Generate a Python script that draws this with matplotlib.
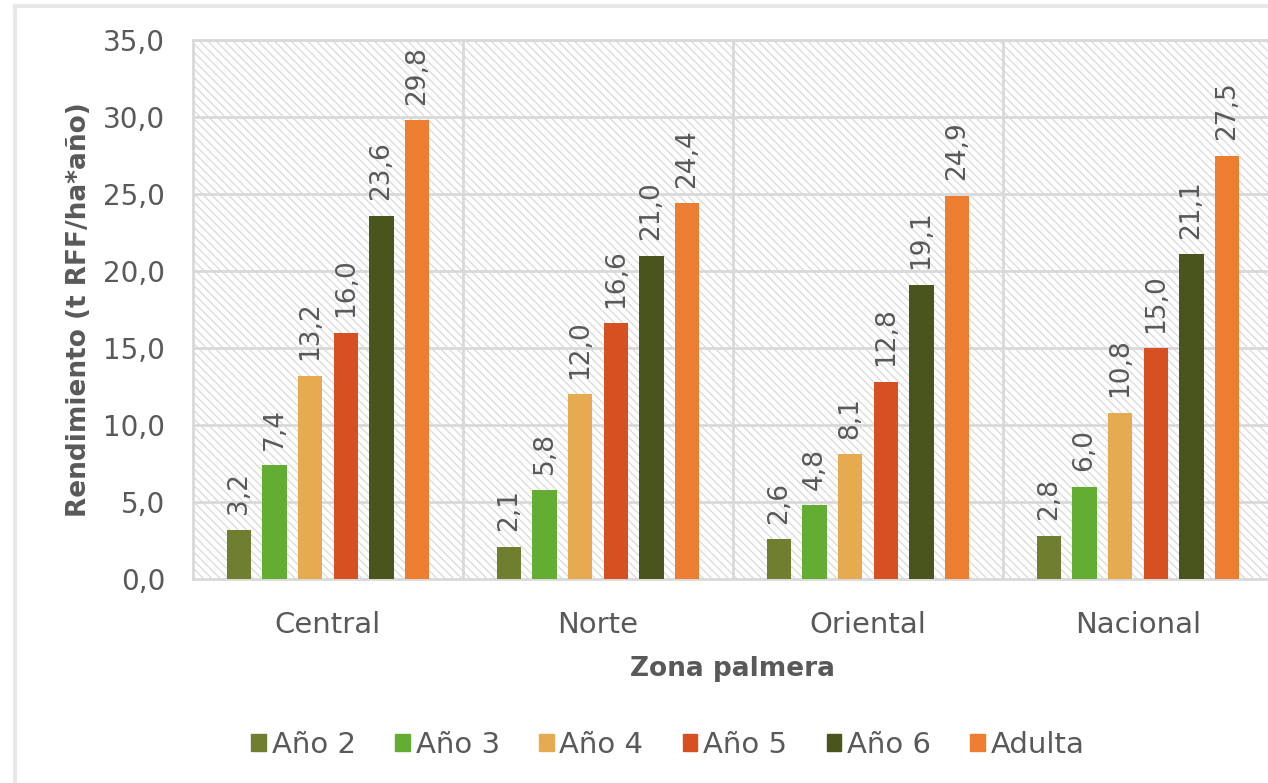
import matplotlib
matplotlib.use("Agg")
import matplotlib.pyplot as plt
import numpy as np
from matplotlib.patches import Rectangle
from matplotlib.lines import Line2D

categories = ["Central", "Norte", "Oriental", "Nacional"]
series_names = ["Año 2", "Año 3", "Año 4", "Año 5", "Año 6", "Adulta"]
ano2 = [3.2, 2.1, 2.6, 2.8]
ano3 = [7.4, 5.8, 4.8, 6.0]
ano4 = [13.2, 12.0, 8.1, 10.8]
ano5 = [16.0, 16.6, 12.8, 15.0]
ano6 = [23.6, 21.0, 19.1, 21.1]
adulta = [29.8, 24.4, 24.9, 27.5]
series = [ano2, ano3, ano4, ano5, ano6, adulta]
colors = ["#6f7f2f", "#63ad33", "#e6aa50", "#d65022", "#4a551e", "#ed7d31"]
yticks = [0, 5, 10, 15, 20, 25, 30, 35]

plt.rcParams['font.family'] = ['DejaVu Sans']
plt.rcParams['hatch.linewidth'] = 1.0
txt = "#595959"
grid = "#d9d9d9"

fig = plt.figure(figsize=(12.68, 7.83), dpi=100)
W, H = 1268, 783
# outer frame
fig.add_artist(Line2D([15/W, 15/W], [0, 1 - 6/H], color="#e8e8e8", lw=3, transform=fig.transFigure))
fig.add_artist(Line2D([15/W, 1], [1 - 6/H, 1 - 6/H], color="#e8e8e8", lw=3, transform=fig.transFigure))

ax = fig.add_axes([193/W, 1 - 579/H, 1080/W, 539/H])
ax.set_facecolor("white")
ax.add_patch(Rectangle((0, 0), 1, 1, transform=ax.transAxes, facecolor="none",
                       edgecolor="#dcdcdc", hatch="\\\\\\\\", lw=0, zorder=0))

n = len(series)
x = np.arange(len(categories))
pitch = 0.132
bw = 0.09
for i, (vals, c) in enumerate(zip(series, colors)):
    pos = x + (i - (n - 1) / 2) * pitch
    ax.bar(pos, vals, width=bw, color=c, zorder=3, label=series_names[i])
    for p, v in zip(pos, vals):
        ax.text(p, v + 1.0, f"{v:.1f}".replace(".", ","), rotation=90,
                ha="center", va="bottom", fontsize=19, color=txt, zorder=4)

ax.set_xlim(-0.5, 3.5)
ax.set_ylim(0, 35)
ax.set_yticks(yticks)
ax.set_yticklabels([f"{t:.1f}".replace(".", ",") for t in yticks], fontsize=20, color=txt)
ax.set_xticks(x)
ax.set_xticklabels(categories, fontsize=21, color=txt)
ax.tick_params(axis="y", length=0, pad=20)
ax.tick_params(axis="x", length=0, pad=23)
for yv in yticks[1:]:
    ax.axhline(yv, color=grid, lw=2, zorder=1)
for xv in [0.5, 1.5, 2.5]:
    ax.axvline(xv, color=grid, lw=2, zorder=1)
for s in ax.spines.values():
    s.set_color(grid)
    s.set_linewidth(2)

ax.set_xlabel("Zona palmera", fontsize=19, fontweight="bold", color=txt, labelpad=12)
ax.set_ylabel("Rendimiento (t RFF/ha*año)", fontsize=19, fontweight="bold", color=txt, labelpad=8)

handles = [Rectangle((0, 0), 1, 1, color=c) for c in colors]
fig.legend(handles, series_names, loc="center", bbox_to_anchor=(668/W, 1 - 745/H), ncol=6,
           frameon=False, fontsize=21, labelcolor=txt, handlelength=0.5, handleheight=0.5,
           handletextpad=0.2, columnspacing=1.35)

fig.savefig("out.png", dpi=100)
